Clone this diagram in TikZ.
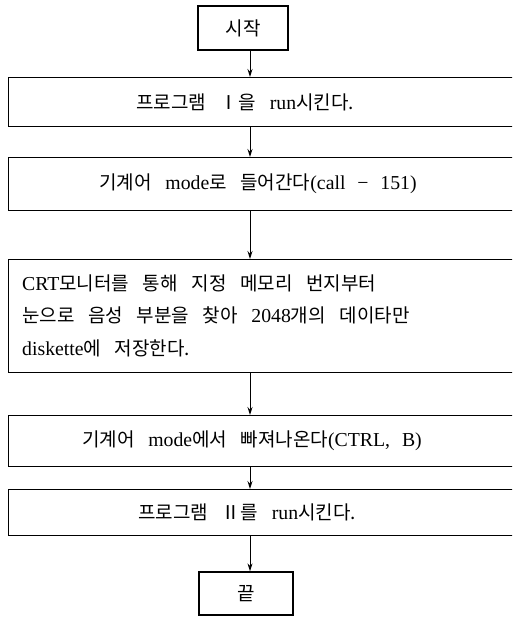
\documentclass[tikz,border=0pt]{standalone}
\usepackage{fontspec}
\setmainfont[WordSpace=3.2]{Noto Sans CJK KR}
\newfontfamily\lat[WordSpace=2.4, Scale=1.04]{Liberation Serif}
\usetikzlibrary{arrows.meta}
\begin{document}
\begin{tikzpicture}[x=1pt,y=-1pt,
  box/.style={draw, line width=1.3pt, inner sep=0pt},
  wide/.style={box, anchor=north west, minimum width=540pt},
  arr/.style={-{Stealth[length=8pt,width=5pt]}, line width=1pt},
  txt/.style={font=\fontsize{19}{24}\selectfont, inner sep=0pt},
  ltxt/.style={txt, anchor=base west}]
\useasboundingbox (0,0) rectangle (512,617);
\clip (0,0) rectangle (512,617);
\coordinate (ax) at (250,0);
% terminals
\node[box, txt, minimum width=90pt, minimum height=44pt] (s) at (243,28) {시작};
\node[box, txt, minimum width=94pt, minimum height=43pt] (e) at (246,593.5) {끝};
% process boxes
\node[wide, minimum height=49pt] (b1) at (8,77) {};
\node[wide, minimum height=53pt] (b2) at (8,157) {};
\node[wide, minimum height=113pt] (b3) at (8,259) {};
\node[wide, minimum height=51pt] (b4) at (8,415) {};
\node[wide, minimum height=46pt] (b5) at (8,489) {};
% texts
\node[txt] (t1) at (245,102) {프로그램 Ⅰ을 {\lat run}시킨다.};
\node[txt] (t2) at (258,184) {기계어 {\lat mode}로 들어간다{\lat (call − 151)}};
\node[ltxt] (t3a) at (22,290) {{\lat CRT}모니터를 통해 지정 메모리 번지부터};
\node[ltxt] (t3b) at (22,322) {눈으로 음성 부분을 찾아 {\lat 2048}개의 데이타만};
\node[ltxt] (t3c) at (22,355) {{\lat diskette}에 저장한다.};
\node[txt] (t4) at (252,441) {기계어 {\lat mode}에서 빠져나온다{\lat (CTRL, B)}};
\node[txt] (t5) at (247,512) {프로그램 Ⅱ를 {\lat run}시킨다.};
% connectors
\draw[arr] (s.south -| ax) -- (b1.north -| ax);
\draw[arr] (b1.south -| ax) -- (b2.north -| ax);
\draw[arr] (b2.south -| ax) -- (b3.north -| ax);
\draw[arr] (b3.south -| ax) -- (b4.north -| ax);
\draw[arr] (b4.south -| ax) -- (b5.north -| ax);
\draw[arr] (b5.south -| ax) -- (e.north -| ax);
\end{tikzpicture}
\end{document}
